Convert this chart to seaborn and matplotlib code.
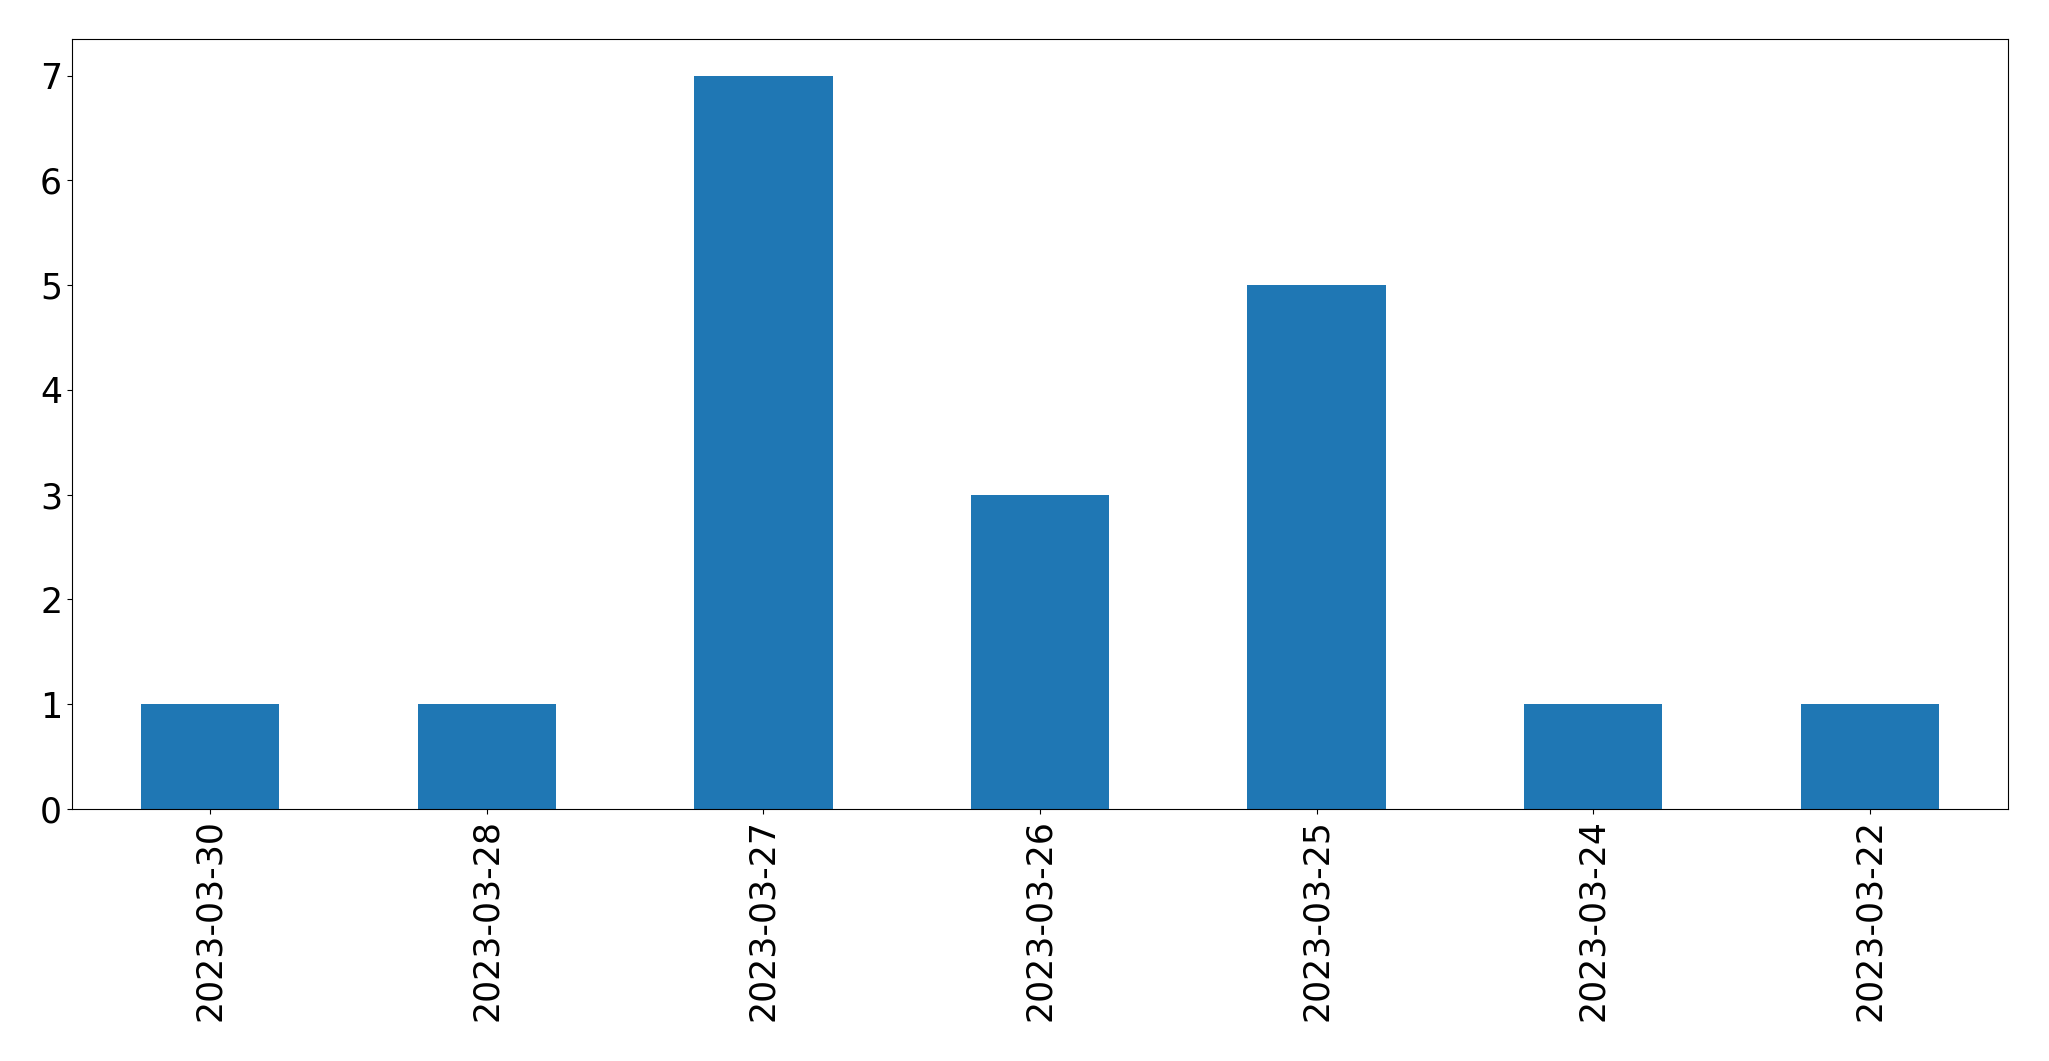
import pandas as pd
import matplotlib
matplotlib.use('Agg')
import matplotlib.pyplot as plt
import seaborn as sns

#### Data

dates = ['2023-03-30', '2023-03-28', '2023-03-27', '2023-03-26',
         '2023-03-25', '2023-03-24', '2023-03-22']
counts = [1, 1, 7, 3, 5, 1, 1]

df = pd.DataFrame({'date': dates, 'count': counts})

#### Graphic

fig, ax = plt.subplots(figsize=(20.49, 10.61), dpi=100)
sns.barplot(data=df, x='date', y='count', order=dates,
            color='#1f77b4', saturation=1, width=0.5, linewidth=0, ax=ax)
ax.set_xlim(-0.5, len(dates) - 0.5)
ax.set_ylim(0, max(counts) * 1.05)
ax.set_xlabel('')
ax.set_ylabel('')
ax.tick_params(axis='both', labelsize=25)
plt.setp(ax.get_xticklabels(), rotation=90)
plt.subplots_adjust(left=0.0351, right=0.98, top=0.9632, bottom=0.2375)
plt.savefig('out.png', dpi=100)
